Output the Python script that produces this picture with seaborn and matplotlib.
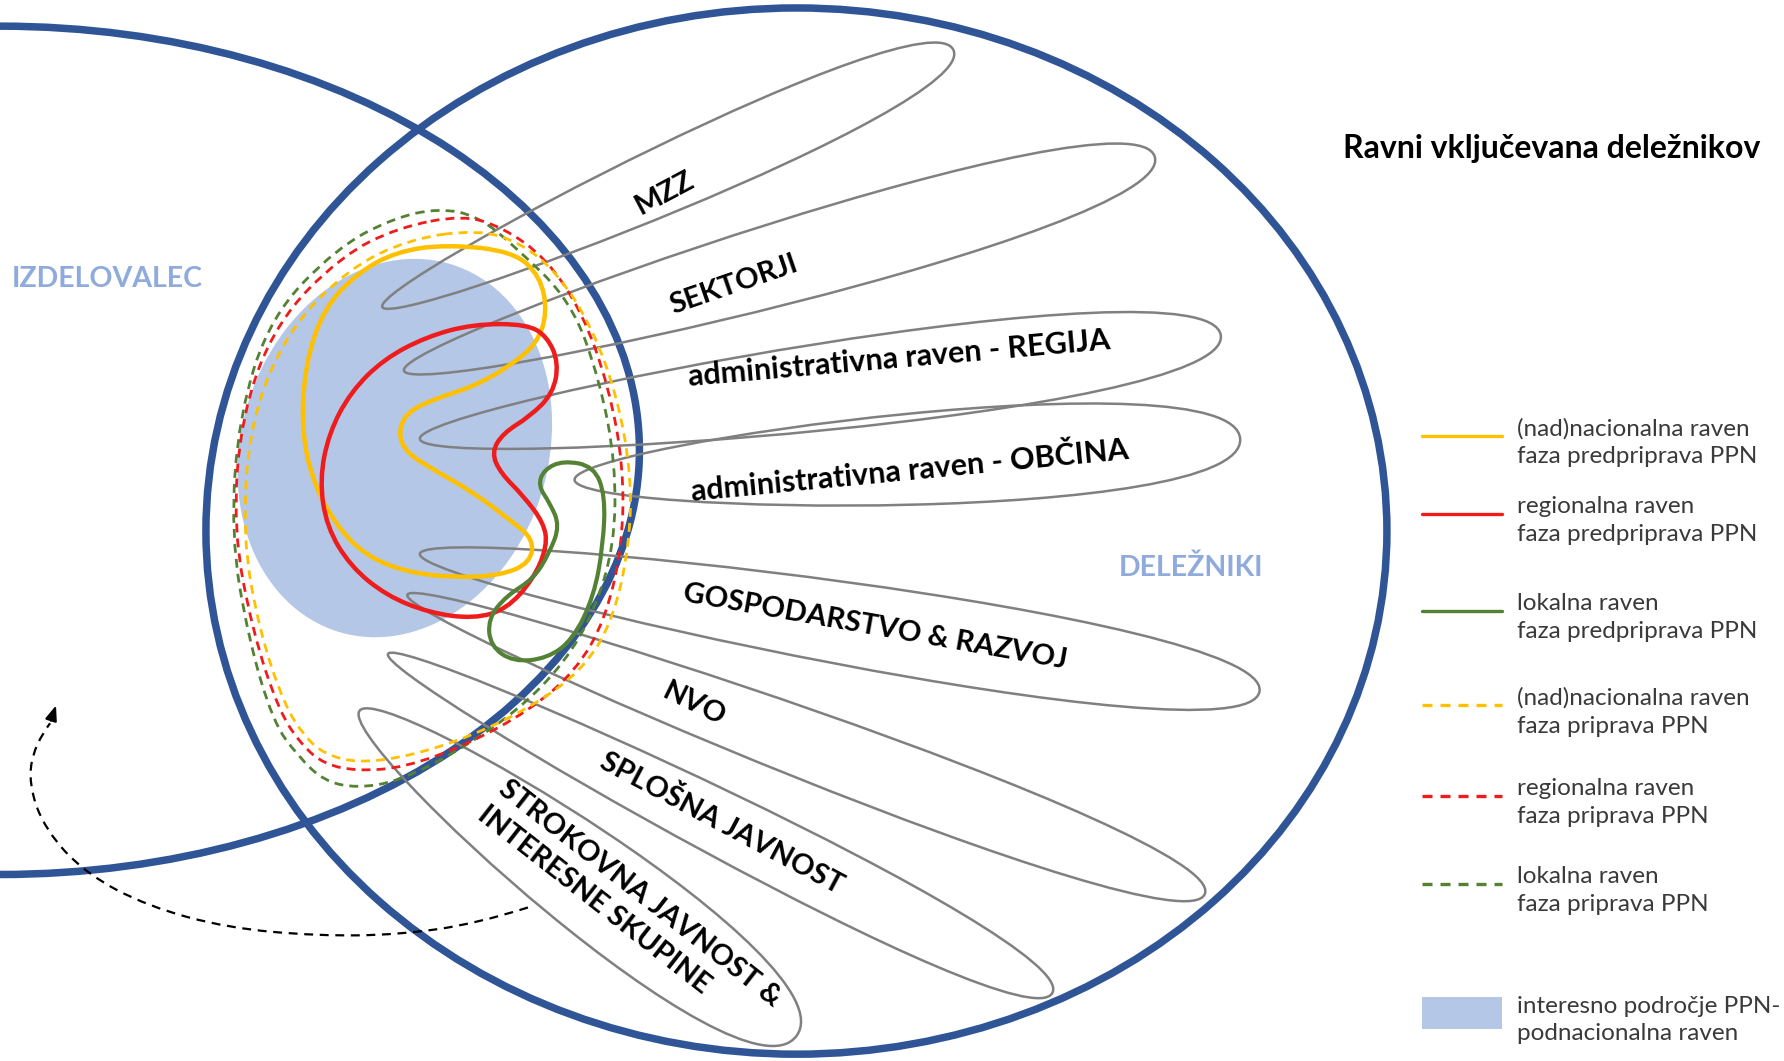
import numpy as np
import pandas as pd
import seaborn as sns
import matplotlib.pyplot as plt
from matplotlib.patches import Ellipse, PathPatch, Rectangle
from matplotlib.path import Path

# drawing units (the picture is 1568 x 933 units, y going down)
W, H = 1568, 933

# the two big circles: centre x, centre y, width, height
izdelovalec_circle = (0, 396, 1124, 746)
deleznik_circle = (700, 467, 1038, 920)
# light blue interest area: centre x, centre y, width, height, angle
interest_area = (347, 394, 270, 338, 17)

# stakeholder lobes: left tip, right tip, half width
lobe_labels = ['MZZ', 'SEKTORJI', 'administrativna raven - REGIJA',
               'administrativna raven - OBČINA', 'GOSPODARSTVO & RAZVOJ', 'NVO',
               'SPLOŠNA JAVNOST', 'STROKOVNA JAVNOST &\nINTERESNE SKUPINE']
lobe_start = [(336, 270), (355, 326), (369, 386), (505, 422),
              (369, 487), (358, 523), (341, 575), (316, 625)]
lobe_end = [(838, 44), (1015, 138), (1073, 295), (1090, 386),
            (1107, 608), (1059, 786), (925, 873), (700, 911)]
lobe_halfwidth = [31, 38, 40, 42, 38, 32, 30, 46]
label_pos = [(584, 170), (645, 250), (790, 315), (800, 414),
             (769, 551), (610, 619), (634, 724), (553, 797)]
label_rot = [28, 19, 5, 5.5, -10, -26, -28, -38]
label_size = [21, 21, 22, 22, 21, 21, 21, 21]

# coloured outlines
yellow_solid = [(393, 215), (451, 221), (475, 243), (481, 275), (472, 302), (448, 322),
                (416, 340), (381, 351), (357, 363), (350, 381), (357, 398), (381, 413),
                (416, 433), (448, 457), (469, 474), (466, 495), (440, 506), (399, 508),
                (357, 503), (322, 489), (296, 463), (275, 424), (265, 378), (268, 322),
                (284, 272), (314, 240), (349, 221)]
red_solid = [(463, 285), (481, 296), (491, 319), (486, 346), (466, 366), (442, 381),
             (432, 398), (440, 416), (460, 436), (478, 460), (481, 480), (469, 509),
             (445, 536), (416, 544), (378, 539), (340, 524), (308, 498), (287, 463),
             (281, 422), (289, 381), (308, 345), (337, 316), (375, 296), (416, 285)]
green_solid = [(495, 405), (522, 410), (532, 436), (530, 480), (522, 524), (504, 562),
               (481, 579), (451, 582), (431, 568), (429, 544), (445, 524), (469, 509),
               (483, 486), (492, 462), (483, 442), (473, 427), (478, 413)]
green_dashed = [(386, 183), (420, 190), (453, 217), (502, 265), (527, 334), (541, 407),
                (540, 480), (522, 538), (496, 583), (455, 625), (400, 662), (350, 687),
                (314, 693), (285, 687), (262, 665), (240, 635), (218, 560), (203, 470),
                (210, 365), (238, 278), (296, 218), (345, 192)]
red_dashed = [(407, 189), (442, 200), (480, 227), (512, 275), (535, 340), (548, 410),
              (547, 480), (532, 545), (506, 590), (465, 625), (410, 655), (355, 675),
              (314, 678), (285, 672), (265, 655), (245, 625), (222, 555), (205, 465),
              (212, 365), (243, 283), (300, 225), (350, 200)]
yellow_dashed = [(420, 202), (457, 213), (490, 240), (520, 287), (543, 350), (555, 420),
                 (553, 480), (539, 545), (513, 588), (470, 620), (415, 647), (360, 665),
                 (314, 671), (285, 663), (268, 648), (250, 620), (228, 555), (213, 470),
                 (220, 370), (252, 292), (305, 237), (360, 210)]
arrow_curve = [(464, 798), (420, 812), (350, 822), (280, 823), (200, 816), (130, 797),
               (75, 768), (40, 730), (25, 690), (30, 655), (44, 636)]

legend_labels = ['(nad)nacionalna raven\nfaza predpriprava PPN',
                 'regionalna raven\nfaza predpriprava PPN',
                 'lokalna raven\nfaza predpriprava PPN',
                 '(nad)nacionalna raven\nfaza priprava PPN',
                 'regionalna raven\nfaza priprava PPN',
                 'lokalna raven\nfaza priprava PPN',
                 'interesno področje PPN-\npodnacionalna raven']
legend_y = [383, 452, 537, 620, 700, 777, 891]

BLUE = '#2F5597'
PALE = '#B4C7E7'
YELLOW = '#FFC000'
RED = '#EE1C1C'
GREEN = '#548235'
GREY = '#808080'
LABEL_BLUE = '#8FAADC'


def smooth_closed(pts):
    pts = np.asarray(pts, float)
    mids = (pts + np.roll(pts, -1, axis=0)) / 2
    verts = [mids[-1]]
    codes = [Path.MOVETO]
    for p, m in zip(pts, mids):
        verts += [p, m]
        codes += [Path.CURVE3, Path.CURVE3]
    return Path(verts, codes)


def smooth_open(pts):
    pts = np.asarray(pts, float)
    verts = [pts[0]]
    codes = [Path.MOVETO]
    for i in range(1, len(pts) - 1):
        m = (pts[i] + pts[i + 1]) / 2 if i < len(pts) - 2 else pts[i + 1]
        verts += [pts[i], m]
        codes += [Path.CURVE3, Path.CURVE3]
    return Path(verts, codes)


def lobe_path(p0, p1, hw):
    # teardrop: narrow round tip at p0, wide round end at p1
    p0, p1 = np.array(p0, float), np.array(p1, float)
    d = p1 - p0
    L = np.hypot(*d)
    u = d / L
    n = np.array([-u[1], u[0]])
    h = hw / 0.56
    local = [(0, 0), (0, 0.42 * h), (L, h), (L, 0), (L, -h), (0, -0.42 * h), (0, 0)]
    verts = [p0 + s * u + t * n for s, t in local]
    codes = [Path.MOVETO] + [Path.CURVE4] * 6
    return Path(verts, codes)


sns.set_style('white')
plt.rcParams['font.family'] = ['Lato', 'DejaVu Sans']

fig = plt.figure(figsize=(17.84, 10.61), dpi=100)
ax = fig.add_axes([0, 0, 1, 1])

# interest area
cx, cy, w, h, a = interest_area
ax.add_patch(Ellipse((cx, cy), w, h, angle=a, facecolor=PALE, edgecolor='none', zorder=1))

# big circles
for cx, cy, w, h in [izdelovalec_circle, deleznik_circle]:
    ax.add_patch(Ellipse((cx, cy), w, h, fill=False, edgecolor=BLUE, lw=5.4, zorder=2))

# stakeholder lobes and their labels
for p0, p1, hw in zip(lobe_start, lobe_end, lobe_halfwidth):
    ax.add_patch(PathPatch(lobe_path(p0, p1, hw), fill=False, edgecolor=GREY, lw=1.8, zorder=3))
for txt, (x, y), r, fs in zip(lobe_labels, label_pos, label_rot, label_size):
    ax.text(x, y, txt, rotation=r, ha='center', va='center', fontsize=fs,
            fontweight='bold', color='black', multialignment='left',
            rotation_mode='anchor', linespacing=1.35, zorder=6)

# coloured outlines
dash = (0, (3.2, 2.2))
for pts, col, ls, lw in [(green_dashed, GREEN, dash, 2.0), (red_dashed, RED, dash, 2.0),
                         (yellow_dashed, YELLOW, dash, 2.0), (yellow_solid, YELLOW, '-', 3.2),
                         (red_solid, RED, '-', 3.2), (green_solid, GREEN, '-', 3.0)]:
    ax.add_patch(PathPatch(smooth_closed(pts), fill=False, edgecolor=col, linestyle=ls,
                           lw=lw, zorder=4))

# dashed feedback arrow
ax.add_patch(PathPatch(smooth_open(arrow_curve), fill=False, edgecolor='black',
                       linestyle=(0, (4, 3)), lw=1.6, zorder=4))
ax.annotate('', xy=(50, 618), xytext=(44, 636),
            arrowprops=dict(arrowstyle='-|>,head_width=0.35,head_length=0.9',
                            color='black', lw=1.6), zorder=4)

# area names
ax.text(94, 245, 'IZDELOVALEC', ha='center', va='center', fontsize=20.5,
        fontweight='bold', color=LABEL_BLUE)
ax.text(1047, 499, 'DELEŽNIKI', ha='center', va='center', fontsize=20.5,
        fontweight='bold', color=LABEL_BLUE)

# legend
ax.text(1180, 131, 'Ravni vključevana deležnikov', ha='left', va='center',
        fontsize=23, fontweight='bold', color='black')
styles = [(YELLOW, '-'), (RED, '-'), (GREEN, '-'),
          (YELLOW, (0, (3, 2.4))), (RED, (0, (3, 2.4))), (GREEN, (0, (3, 2.4)))]
for (col, ls), y in zip(styles, legend_y[:6]):
    seg = pd.DataFrame({'x': [1250, 1320], 'y': [y, y]})
    sns.lineplot(data=seg, x='x', y='y', color=col, linestyle=ls, lw=2.4, ax=ax)
ax.add_patch(Rectangle((1250, legend_y[6] - 14), 70, 28, facecolor=PALE, edgecolor='none'))
for txt, y in zip(legend_labels, legend_y):
    ax.text(1333, y + 6, txt, ha='left', va='center', fontsize=17.5, color='#3A3A3A',
            linespacing=1.4)

ax.set_xlim(0, W)
ax.set_ylim(H, 0)
ax.axis('off')
fig.savefig('out.png', dpi=100, facecolor='white')
